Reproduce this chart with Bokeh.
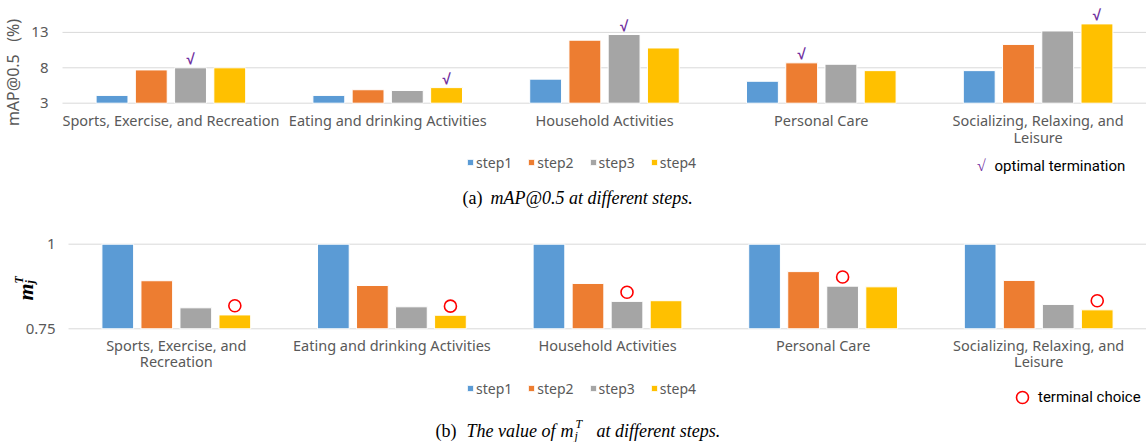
from math import pi
from bokeh.plotting import figure
from bokeh.models import ColumnDataSource, Label, Legend, LegendItem, Range1d
from bokeh.layouts import column
from bokeh.embed import file_html
from bokeh.resources import INLINE
from bokeh.core.properties import value

# ---------------- data ----------------
categories = ["Sports, Exercise, and Recreation", "Eating and drinking Activities",
              "Household Activities", "Personal Care", "Socializing, Relaxing, and Leisure"]
steps = ["step1", "step2", "step3", "step4"]

# (a) mAP@0.5 (%)
map_step1 = [4.1, 4.1, 6.4, 6.1, 7.6]
map_step2 = [7.7, 4.9, 11.9, 8.7, 11.3]
map_step3 = [8.0, 4.8, 12.7, 8.5, 13.2]
map_step4 = [8.0, 5.2, 10.8, 7.6, 14.2]
map_optimal_step = [3, 4, 3, 2, 4]       # step (1-based) marked with the check mark
map_ticks = [3, 8, 13]
map_tick_labels = ["3", "8", "13"]

# (b) m_j^T
m_step1 = [1.0, 1.0, 1.0, 1.0, 1.0]
m_step2 = [0.892, 0.878, 0.884, 0.919, 0.893]
m_step3 = [0.812, 0.815, 0.831, 0.876, 0.822]
m_step4 = [0.791, 0.790, 0.833, 0.874, 0.806]
m_terminal_step = [4, 4, 3, 3, 4]        # step (1-based) marked with the red circle
m_ticks = [0.75, 1.0]
m_tick_labels = ["0.75", "1"]

top_cat_labels = ["Sports, Exercise, and Recreation", "Eating and drinking Activities",
                  "Household Activities", "Personal Care", "Socializing, Relaxing, and\nLeisure"]
bottom_cat_labels = ["Sports, Exercise, and\nRecreation", "Eating and drinking Activities",
                     "Household Activities", "Personal Care", "Socializing, Relaxing, and\nLeisure"]

# ---------------- layout / styles ----------------
W = 1146
H_A, H_B = 213, 229
colors = ["#5B9BD5", "#ED7D31", "#A5A5A5", "#FFC000"]
SANS = "Noto Sans"
SANS_V = value(SANS)
NOTE = "Roboto"
SERIF = "Liberation Serif"
GREY_TXT = "#595959"
GRID = "#D9D9D9"
STEP = 0.181
BAR_W = 0.147


def bar_x(i, k):
    return i + 0.5 + (k - 1.5) * STEP


def make_fig(H, left_px, base_px, px_per_unit, base_val):
    n = len(categories)
    cat_w = (W - left_px) / n
    xr = Range1d(-left_px / cat_w, n)
    yr = Range1d(base_val - (H - base_px) / px_per_unit, base_val + base_px / px_per_unit)
    p = figure(width=W, height=H, x_range=xr, y_range=yr, output_backend="svg",
               toolbar_location=None, x_axis_location=None, y_axis_location=None,
               min_border=0, min_border_left=0, min_border_right=0,
               min_border_top=0, min_border_bottom=0)
    p.outline_line_color = None
    for g in p.grid:
        g.visible = False
    return p


def add_value_axis(p, ticks, labels, standoff):
    p.segment(x0=0, x1=len(categories), y0=ticks, y1=ticks, line_color=GRID,
              line_width=1, level="underlay")
    p.text(x=[0] * len(ticks), y=ticks, text=labels, x_offset=-standoff,
           text_align="right", text_baseline="middle", text_font=SANS_V,
           text_font_size="15px", text_color=GREY_TXT)


def add_bars(p, series, bottom):
    rends = []
    for k, vals in enumerate(series):
        src = ColumnDataSource(dict(x=[bar_x(i, k) for i in range(len(vals))], top=vals,
                                    cat=categories))
        r = p.vbar(x="x", top="top", bottom=bottom, width=BAR_W, source=src,
                   fill_color=colors[k], line_color="white", line_width=1)
        rends.append(r)
    return rends


def add_cat_labels(p, labels, base_val, y_off):
    src = ColumnDataSource(dict(x=[i + 0.5 for i in range(len(labels))],
                                y=[base_val] * len(labels), text=labels))
    p.text(x="x", y="y", text="text", y_offset=y_off, source=src,
           text_align="center", text_baseline="top", text_font=SANS_V,
           text_font_size="14.5px", text_color=GREY_TXT, text_line_height=0.82)


def add_step_legend(p, rends, x, y):
    lg = Legend(items=[LegendItem(label=s, renderers=[r]) for s, r in zip(steps, rends)],
                orientation="horizontal", location=(x, y))
    lg.border_line_color = None
    lg.background_fill_alpha = 0
    lg.padding = 0
    lg.margin = 0
    lg.spacing = 15
    lg.glyph_width = 8
    lg.glyph_height = 8
    lg.label_standoff = 2
    lg.label_text_font = SANS
    lg.label_text_font_size = "14px"
    lg.label_text_color = GREY_TXT
    lg.label_height = 20
    p.add_layout(lg, "center")


def lab(p, H, x, y, t, size, color="black", font=SANS, style="normal", align="left",
        baseline="middle", angle=0.0):
    # x, y: pixel position inside this figure, measured from its top-left corner
    p.add_layout(Label(x=x, y=H - y, x_units="screen", y_units="screen", text=t,
                       text_font=font, text_font_size=size, text_color=color,
                       text_font_style=style, text_align=align, text_baseline=baseline,
                       angle=angle))


# ---------------- (a) ----------------
pa = make_fig(H_A, left_px=62, base_px=102.7, px_per_unit=7.08, base_val=3)
add_value_axis(pa, map_ticks, map_tick_labels, 14)
map_series = [map_step1, map_step2, map_step3, map_step4]
ra = add_bars(pa, map_series, bottom=3)

chk_x = [bar_x(i, s - 1) for i, s in enumerate(map_optimal_step)]
chk_y = [map_series[s - 1][i] for i, s in enumerate(map_optimal_step)]
pa.text(x=chk_x, y=chk_y, text=["√"] * len(chk_x), text_align="center",
        text_baseline="bottom", y_offset=-1, text_color="#7030A0",
        text_font_size="15px", text_font_style="bold")

add_cat_labels(pa, top_cat_labels, 3, 7)
add_step_legend(pa, ra, 466, H_A - 172)
lab(pa, H_A, 12, 72, "mAP@0.5\u00a0\u00a0\u00a0(%)", "16px", GREY_TXT, angle=pi / 2,
    align="center")
lab(pa, H_A, 981, 164, "√", "16px", "#7030A0", style="bold", align="center")
lab(pa, H_A, 994, 165, "optimal termination", "15px", "black", font=NOTE)
lab(pa, H_A, 462, 197, "(a)", "18px", "black", font=SERIF)
lab(pa, H_A, 490, 197, "mAP@0.5 at different steps.", "18px", "black", font=SERIF,
    style="italic")

# ---------------- (b) ----------------
pb = make_fig(H_B, left_px=68, base_px=115.3, px_per_unit=338.4, base_val=0.75)
add_value_axis(pb, m_ticks, m_tick_labels, 13)
m_series = [m_step1, m_step2, m_step3, m_step4]
rb = add_bars(pb, m_series, bottom=0.75)

cir_x = [bar_x(i, s - 1) for i, s in enumerate(m_terminal_step)]
cir_y = [m_series[s - 1][i] + 0.027 for i, s in enumerate(m_terminal_step)]
cr = pb.scatter(x=cir_x, y=cir_y, marker="circle", size=12, fill_color=None,
                line_color="#FF0000", line_width=1.6)

add_cat_labels(pb, bottom_cat_labels, 0.75, 6)
add_step_legend(pb, rb, 466, H_B - 185)

# y title m_j^T (rotated); y positions relative to the top of figure (b)
lab(pb, H_B, 25, 87, "m", "22px", "black", font=SERIF, style="bold italic",
    baseline="alphabetic", angle=pi / 2)
lab(pb, H_B, 18, 70, "T", "12px", "black", font=SERIF, style="bold italic",
    baseline="alphabetic", angle=pi / 2)
lab(pb, H_B, 29, 70, "j", "12px", "black", font=SERIF, style="bold italic",
    baseline="alphabetic", angle=pi / 2)

lg2 = Legend(items=[LegendItem(label="terminal choice", renderers=[cr])],
             location=(1007, H_B - 199))
lg2.border_line_color = None
lg2.background_fill_alpha = 0
lg2.padding = 0
lg2.margin = 0
lg2.glyph_width = 30
lg2.glyph_height = 30
lg2.label_standoff = 1
lg2.label_text_font = NOTE
lg2.label_text_font_size = "15px"
lg2.label_text_color = "black"
pb.add_layout(lg2, "center")

cy = 430 - H_A
lab(pb, H_B, 435, cy, "(b)", "18px", "black", font=SERIF)
lab(pb, H_B, 466, cy, "The value of", "18px", "black", font=SERIF, style="italic")
lab(pb, H_B, 560, cy, "m", "18px", "black", font=SERIF, style="italic")
lab(pb, H_B, 575, cy - 7, "T", "12px", "black", font=SERIF, style="italic")
lab(pb, H_B, 574, cy + 5, "j", "12px", "black", font=SERIF, style="italic")
lab(pb, H_B, 596, cy, "at different steps.", "18px", "black", font=SERIF, style="italic")

layout = column(pa, pb, spacing=0)
open("out.html", "w").write(file_html(layout, INLINE))
